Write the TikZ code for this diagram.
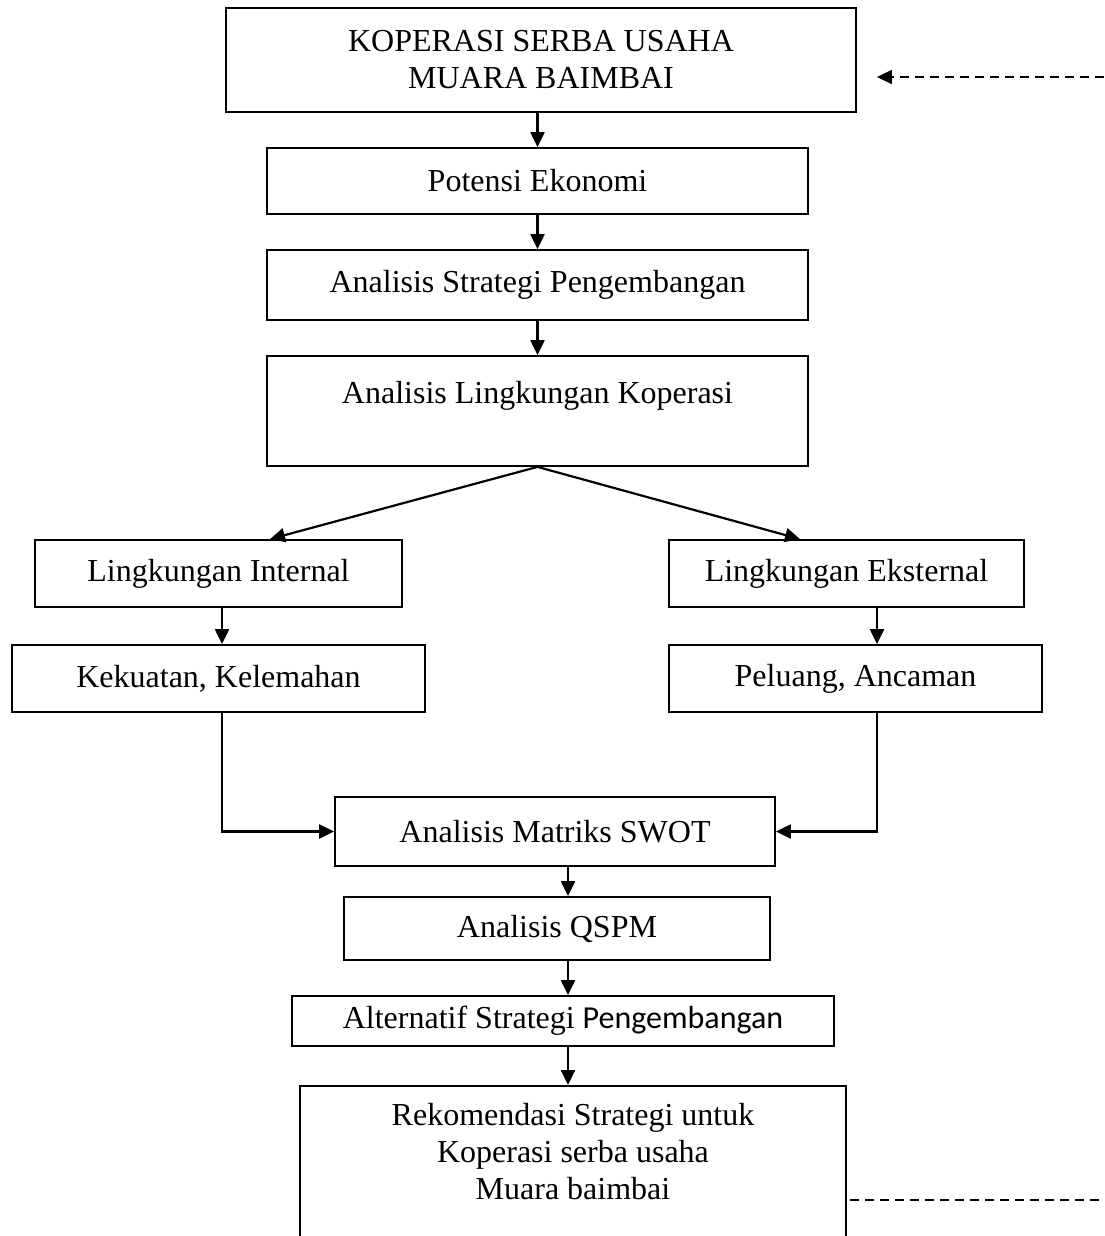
\documentclass[tikz,border=0pt]{standalone}
\usepackage{fontspec}
\setmainfont{Liberation Serif}
\newfontfamily\calibrifont{Carlito}
\usetikzlibrary{arrows.meta,positioning}

\begin{document}
\begin{tikzpicture}[x=1pt,y=-1pt,
      >={Triangle[length=15pt,width=14pt]},
      box/.style={draw,line width=1.8pt,align=center,inner sep=0pt,
        font=\fontsize{32}{37}\selectfont},
      flow/.style={->,line width=2.2pt},
      link/.style={line width=1.8pt,dash pattern=on 9pt off 6pt}]
    \clip (0,0) rectangle (1104,1236);
    % upper column
    \node[box,minimum width=630,minimum height=104] (ksu) at (541,60)
      {KOPERASI SERBA USAHA\\ MUARA BAIMBAI};
    \node[box,minimum width=541,minimum height=66] (pot) at (537.5,181) {Potensi Ekonomi};
    \node[box,minimum width=541,minimum height=70] (strat) at (537.5,285) {Analisis Strategi Pengembangan};
    \node[box,minimum width=541,minimum height=110] (ling) at (537.5,411)
      {Analisis Lingkungan Koperasi\\ \mbox{}};
    % two branches
    \node[box,minimum width=367,minimum height=67] (intl) at (218.5,573.5) {Lingkungan Internal};
    \node[box,minimum width=355,minimum height=67] (extl) at (846.5,573.5) {Lingkungan Eksternal};
    \node[box,minimum width=413,minimum height=67] (kek) at (218.5,678.5) {Kekuatan, Kelemahan};
    \node[box,minimum width=373,minimum height=67] (pel) at (855.5,678.5) {Peluang, Ancaman};
    % lower column
    \coordinate (axis) at (568,0);
    \node[box,minimum width=440,minimum height=69] (swot) at (555,831.5) {Analisis Matriks SWOT};
    \node[box,minimum width=426,minimum height=63] (qspm) at (557,928.5) {Analisis QSPM};
    \node[box,minimum width=542,minimum height=50] (alt) at (563,1021)
      {Alternatif Strategi {\calibrifont Pengembangan}};
    \node[box,minimum width=546,anchor=north,inner ysep=17pt,text depth=90pt] (rek) at (573,1085)
      {Rekomendasi Strategi untuk\\ Koperasi serba usaha\\ Muara baimbai};
    % dashed feedback
    \coordinate (fbin) at (1104,77);
    \coordinate (fbout) at (1104,1200);

    \draw[flow] (pot.north |- ksu.south) -- (pot.north);
    \draw[flow] (pot.south) -- (strat.north);
    \draw[flow] (strat.south) -- (ling.north);
    \draw[flow] (ling.south) -- ([xshift=51.5pt]intl.north);
    \draw[flow] (ling.south) -- ([xshift=-46.5pt]extl.north);
    \draw[flow] ([xshift=3.5pt]intl.south) -- ([xshift=3.5pt]kek.north);
    \draw[flow] ([xshift=30.5pt]extl.south) -- ([xshift=21.5pt]pel.north);
    \draw[flow] ([xshift=3.5pt]kek.south) |- (swot.west);
    \draw[flow] ([xshift=21.5pt]pel.south) |- (swot.east);
    \draw[flow] (swot.south -| axis) -- (qspm.north -| axis);
    \draw[flow] (qspm.south -| axis) -- (alt.north -| axis);
    \draw[flow] (alt.south -| axis) -- (rek.north -| axis);
    \draw[link,->,shorten >=20pt] (fbin) -- (fbin -| ksu.east);
    \draw[link,shorten <=3pt] (fbout -| rek.east) -- (fbout);
  \end{tikzpicture}
\end{document}
